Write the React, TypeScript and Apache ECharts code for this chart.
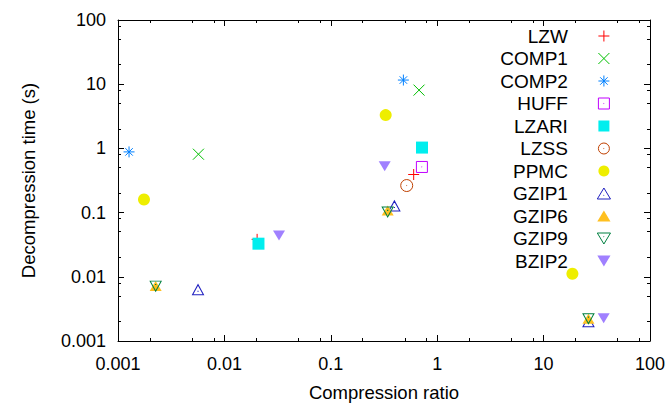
import React, { useEffect, useRef } from 'react';
import * as echarts from 'echarts';

const FONT = '"Liberation Sans", Arial, Helvetica, sans-serif';

// ---- data ----
const seriesNames = ['LZW', 'COMP1', 'COMP2', 'HUFF', 'LZARI', 'LZSS', 'PPMC', 'GZIP1', 'GZIP6', 'GZIP9', 'BZIP2'];

const xTickLabels = ['0.001', '0.01', '0.1', '1', '10', '100'];
const yTickLabels = ['0.001', '0.01', '0.1', '1', '10', '100'];
const minorTickValues = [
  0.002, 0.005, 0.008, 0.02, 0.05, 0.08, 0.2, 0.5, 0.8, 2, 5, 8, 20, 50, 80,
];

const lzwRatio = [0.0203, 0.601];
const lzwTime = [0.0383, 0.392];
const comp1Ratio = [0.0057, 0.675];
const comp1Time = [0.812, 8.09];
const comp2Ratio = [0.00127, 0.481];
const comp2Time = [0.882, 11.6];
const huffRatio = [0.718];
const huffTime = [0.514];
const lzariRatio = [0.0209, 0.72];
const lzariTime = [0.0328, 1.03];
const lzssRatio = [0.517];
const lzssTime = [0.264];
const ppmcRatio = [0.001755, 0.328, 18.65];
const ppmcTime = [0.16, 3.3, 0.01116];
const gzip1Ratio = [0.00565, 0.396, 26.4];
const gzip1Time = [0.0063, 0.127, 0.00199];
const gzip6Ratio = [0.00226, 0.3425, 26.4];
const gzip6Time = [0.00716, 0.108, 0.00222];
const gzip9Ratio = [0.00226, 0.3425, 26.4];
const gzip9Time = [0.00716, 0.102, 0.00222];
const bzip2Ratio = [0.0326, 0.321, 36.7];
const bzip2Time = [0.0438, 0.527, 0.00227];

const ratios = [lzwRatio, comp1Ratio, comp2Ratio, huffRatio, lzariRatio, lzssRatio, ppmcRatio, gzip1Ratio, gzip6Ratio, gzip9Ratio, bzip2Ratio];
const times = [lzwTime, comp1Time, comp2Time, huffTime, lzariTime, lzssTime, ppmcTime, gzip1Time, gzip6Time, gzip9Time, bzip2Time];

// ---- styles ----
const seriesColors = ['#ff0000', '#00c000', '#0080ff', '#c000ff', '#00eeee', '#c04000', '#eeee00', '#2020c0', '#ffc020', '#008040', '#a080ff'];

const markers: { symbol: string; size: number | number[]; open: boolean }[] = [
  { symbol: 'path://M0,5H10M5,0V10', size: 11, open: true },
  { symbol: 'path://M0,0L10,10M10,0L0,10', size: 11, open: true },
  { symbol: 'path://M0,5H10M5,0V10M1.6,1.6L8.4,8.4M8.4,1.6L1.6,8.4', size: 11, open: true },
  { symbol: 'path://M0,0H10V10H0ZM4.9,4.9H5.1V5.1H4.9Z', size: 11, open: true },
  { symbol: 'path://M0,0H10V10H0Z', size: 12, open: false },
  { symbol: 'path://M0,5A5,5,0,1,1,10,5A5,5,0,1,1,0,5ZM4.9,4.9H5.1V5.1H4.9Z', size: 12, open: true },
  { symbol: 'circle', size: 12, open: false },
  { symbol: 'path://M0,10L6,0L12,10ZM5.9,6.5H6.1V6.7H5.9Z', size: [11, 10], open: true },
  { symbol: 'path://M0,10L6,0L12,10Z', size: [12, 10], open: false },
  { symbol: 'path://M0,0L12,0L6,10ZM5.9,3.3H6.1V3.5H5.9Z', size: [11, 10], open: true },
  { symbol: 'path://M0,0L12,0L6,10Z', size: [12, 10], open: false },
];

const fmt = (labels: string[]) => (v: number) => labels[Math.round(Math.log10(v)) + 3] ?? '';

const crisp = (v: number) => Math.round(v - 0.5) + 0.5;

export default function App() {
  const ref = useRef<HTMLDivElement>(null);

  useEffect(() => {
    if (!ref.current) return;
    const chart = echarts.init(ref.current, undefined, { renderer: 'svg' });

    const axisCommon = {
      type: 'log' as const,
      logBase: 10,
      min: 0.001,
      max: 100,
      axisLine: { show: true, onZero: false, lineStyle: { color: '#000', width: 1 } },
      axisTick: { show: true, inside: true, length: 6, lineStyle: { color: '#000', width: 1 } },
      splitLine: { show: false },
      minorTick: { show: false },
      minorSplitLine: { show: false },
    };

    const scatterSeries = seriesNames.map((name, i) => {
      const m = markers[i];
      const c = seriesColors[i];
      return {
        type: 'scatter',
        name,
        data: ratios[i].map((r, j) => [r, times[i][j]]),
        symbol: m.symbol,
        symbolSize: m.size,
        symbolKeepAspect: false,
        itemStyle: m.open
          ? { color: 'rgba(0,0,0,0)', borderColor: c, borderWidth: 1, opacity: 1 }
          : { color: c, borderWidth: 0, opacity: 1 },
        z: 3 + i,
        silent: true,
      };
    });

    const tickStyle = { stroke: '#000', lineWidth: 1 };

    const option: any = {
      animation: false,
      backgroundColor: '#fff',
      textStyle: { fontFamily: FONT },
      grid: { left: 118, right: 19, top: 20, bottom: 64, containLabel: false, outerBoundsMode: 'none' },
      legend: {
        data: seriesNames.map((name, i) => ({
          name,
          itemStyle: { borderWidth: markers[i].open ? 1 : 0 },
        })),
        orient: 'vertical',
        align: 'right',
        right: 58,
        top: 26.5,
        padding: 0,
        itemWidth: 62,
        itemHeight: 11,
        itemGap: 3.5,
        selectedMode: false,
        textStyle: { fontSize: 19, fontFamily: FONT, color: '#000' },
      },
      xAxis: [
        {
          ...axisCommon,
          position: 'bottom',
          axisLabel: { margin: 14, fontSize: 18, color: '#000', fontFamily: FONT, formatter: fmt(xTickLabels) },
          name: 'Compression ratio',
          nameLocation: 'middle',
          nameGap: 42,
          nameMoveOverlap: false,
          nameTextStyle: { fontSize: 18.5, color: '#000', fontFamily: FONT },
        },
        {
          ...axisCommon,
          position: 'top',
          axisLabel: { show: false },
        },
      ],
      yAxis: [
        {
          ...axisCommon,
          position: 'left',
          axisLabel: { margin: 12, fontSize: 18, color: '#000', fontFamily: FONT, formatter: fmt(yTickLabels) },
          name: 'Decompression time (s)',
          nameLocation: 'middle',
          nameGap: 80,
          nameMoveOverlap: false,
          nameTextStyle: { fontSize: 18.5, color: '#000', fontFamily: FONT },
        },
        {
          ...axisCommon,
          position: 'right',
          axisLabel: { show: false },
        },
      ],
      series: [
        {
          type: 'custom',
          silent: true,
          clip: false,
          z: 1,
          data: minorTickValues.map((v) => [v, 1]),
          renderItem: (params: any, api: any) => {
            const cs = params.coordSys;
            const x = crisp(api.coord([api.value(0), 1])[0]);
            const b = cs.y + cs.height;
            const t = cs.y;
            return {
              type: 'group',
              children: [
                { type: 'line', shape: { x1: x, y1: b, x2: x, y2: b - 3 }, style: tickStyle },
                { type: 'line', shape: { x1: x, y1: t, x2: x, y2: t + 3 }, style: tickStyle },
              ],
            };
          },
        },
        {
          type: 'custom',
          silent: true,
          clip: false,
          z: 1,
          data: minorTickValues.map((v) => [1, v]),
          renderItem: (params: any, api: any) => {
            const cs = params.coordSys;
            const y = crisp(api.coord([1, api.value(1)])[1]);
            const l = cs.x;
            const r = cs.x + cs.width;
            return {
              type: 'group',
              children: [
                { type: 'line', shape: { x1: l, y1: y, x2: l + 3, y2: y }, style: tickStyle },
                { type: 'line', shape: { x1: r, y1: y, x2: r - 3, y2: y }, style: tickStyle },
              ],
            };
          },
        },
        ...scatterSeries,
      ],
    };

    chart.setOption(option);
    return () => chart.dispose();
  }, []);

  return (
    <div
      ref={ref}
      style={{ position: 'fixed', left: 0, top: 0, width: 669, height: 405, background: '#fff' }}
    />
  );
}
